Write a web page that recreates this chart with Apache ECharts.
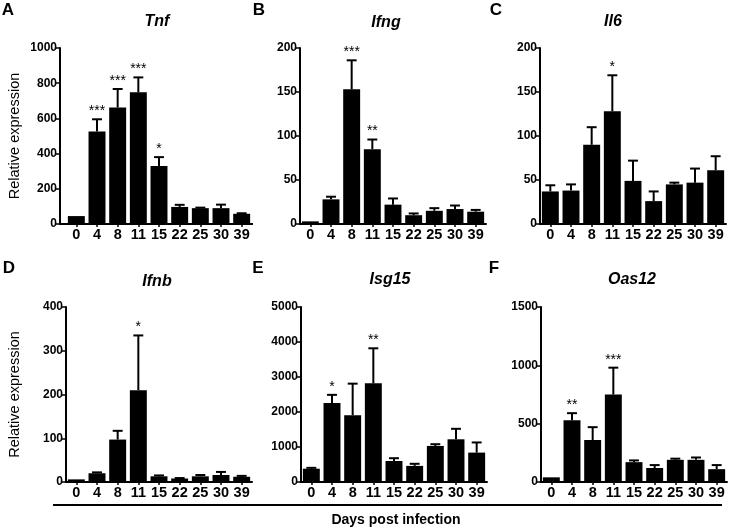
<!DOCTYPE html>
<html><head><meta charset="utf-8">
<script src="https://cdn.jsdelivr.net/npm/echarts@6/dist/echarts.min.js"></script>
<style>html,body{margin:0;padding:0;background:#fff}#c{width:732px;height:528px}</style>
</head><body><div id="c"></div>
<script>
const days = ['0','4','8','11','15','22','25','30','39'];

const tnf    = [45, 525, 662, 748, 330, 97, 90, 90, 58];
const tnfErr = [0, 70, 105, 85, 50, 12, 3, 20, 3];
const tnfSig = ['', '***', '***', '***', '*', '', '', '', ''];

const ifng    = [3, 28, 153, 85, 22, 10, 15, 17, 14];
const ifngErr = [0, 3, 33, 11, 7, 2, 3, 4, 2];
const ifngSig = ['', '', '***', '**', '', '', '', '', ''];

const il6    = [37, 38, 90, 128, 49, 26, 45, 47, 61];
const il6Err = [7, 7, 20, 41, 23, 11, 2, 16, 16];
const il6Sig = ['', '', '', '*', '', '', '', '', ''];

const ifnb    = [6, 20, 97, 210, 13, 8, 13, 16, 12];
const ifnbErr = [0, 2, 20, 125, 2, 1, 3, 7, 2];
const ifnbSig = ['', '', '', '*', '', '', '', '', ''];

const isg15    = [380, 2260, 1910, 2820, 600, 460, 1030, 1220, 840];
const isg15Err = [25, 230, 900, 1000, 80, 60, 50, 300, 290];
const isg15Sig = ['', '*', '', '**', '', '', '', '', ''];

const oas12    = [40, 530, 360, 750, 170, 120, 190, 190, 110];
const oas12Err = [0, 60, 110, 230, 15, 25, 10, 20, 35];
const oas12Sig = ['', '**', '', '***', '', '', '', '', ''];

const FONT = '"Liberation Sans", Arial, sans-serif';

const panels = [
  {name:'Tnf',   letter:'A', vals:tnf,   errs:tnfErr,   sig:tnfSig,   max:1000, step:200,  left:66,  top:48,  h:176, yOff:6, tx:157, ty:22,  lx:8,   ly:10,  ylab:true},
  {name:'Ifng',  letter:'B', vals:ifng,  errs:ifngErr,  sig:ifngSig,  max:200,  step:50,   left:300, top:48,  h:176, yOff:0, tx:386, ty:23,  lx:259, ly:10,  ylab:false},
  {name:'Il6',   letter:'C', vals:il6,   errs:il6Err,   sig:il6Sig,   max:200,  step:50,   left:540, top:48,  h:176, yOff:0, tx:613, ty:22,  lx:496, ly:10,  ylab:false},
  {name:'Ifnb',  letter:'D', vals:ifnb,  errs:ifnbErr,  sig:ifnbSig,  max:400,  step:100,  left:66,  top:307, h:175, yOff:0, tx:157, ty:282, lx:9,   ly:268, ylab:true},
  {name:'Isg15', letter:'E', vals:isg15, errs:isg15Err, sig:isg15Sig, max:5000, step:1000, left:301, top:307, h:175, yOff:0, tx:390, ty:280, lx:258, ly:268, ylab:false},
  {name:'Oas12', letter:'F', vals:oas12, errs:oas12Err, sig:oas12Sig, max:1500, step:500,  left:541, top:307, h:175, yOff:0, tx:632, ty:280, lx:494, ly:268, ylab:false}
];

const BAND_W = 186;

function errItem(sig) {
  return function (params, api) {
    const i = api.value(0), v = api.value(1), e = api.value(2);
    const base = api.coord([i, v]);
    const top = api.coord([i, v + e]);
    const hw = api.size([1, 0])[0] * 0.24;
    const children = [];
    if (e > 0) {
      children.push({type:'line', shape:{x1:base[0], y1:base[1], x2:top[0], y2:top[1]}, style:{stroke:'#000', lineWidth:2}});
      children.push({type:'line', shape:{x1:top[0]-hw, y1:top[1], x2:top[0]+hw, y2:top[1]}, style:{stroke:'#000', lineWidth:2}});
    }
    const s = sig[params.dataIndex];
    if (s) {
      children.push({type:'text', style:{text:s, x:top[0], y:top[1]-1, textAlign:'center', textVerticalAlign:'bottom', font:'14px ' + FONT, fill:'#000'}});
    }
    return {type:'group', children};
  };
}

const grid = [], xAxis = [], yAxis = [], series = [], graphic = [];

panels.forEach((p, k) => {
  grid.push({left:p.left, top:p.top, width:BAND_W, height:p.h, containLabel:false});
  xAxis.push({
    type:'category', gridIndex:k, data:days,
    axisLine:{lineStyle:{color:'#000', width:2}},
    axisTick:{show:true, alignWithLabel:true, length:3, lineStyle:{color:'#000', width:1.5}},
    axisLabel:{color:'#000', fontFamily:FONT, fontWeight:'bold', fontSize:14.5, margin:3, interval:0}
  });
  yAxis.push({
    type:'value', gridIndex:k, min:0, max:p.max, interval:p.step, offset:p.yOff,
    name: p.ylab ? 'Relative expression' : '',
    nameLocation:'middle', nameRotate:90, nameGap: p.ylab ? (k === 0 ? 38 : 44) : 0,
    nameTextStyle:{color:'#000', fontFamily:FONT, fontSize:14.5},
    axisLine:{show:true, lineStyle:{color:'#000', width:2}},
    axisTick:{show:true, length:4, lineStyle:{color:'#000', width:1.5}},
    axisLabel:{color:'#000', fontFamily:FONT, fontWeight:'bold', fontSize:12, margin:3, formatter:(v) => String(v)},
    splitLine:{show:false}
  });
  series.push({
    type:'bar', xAxisIndex:k, yAxisIndex:k, data:p.vals,
    barCategoryGap:'18%', itemStyle:{color:'#000'}, silent:true
  });
  series.push({
    type:'custom', xAxisIndex:k, yAxisIndex:k,
    data:p.vals.map((v, j) => [j, v, p.errs[j]]),
    encode:{x:0, y:1}, renderItem:errItem(p.sig), z:5, silent:true
  });
  graphic.push({type:'text', style:{text:p.name, x:p.tx, y:p.ty, textAlign:'center', textVerticalAlign:'middle', font:'italic bold 16px ' + FONT, fill:'#000'}});
  graphic.push({type:'text', style:{text:p.letter, x:p.lx, y:p.ly, textAlign:'center', textVerticalAlign:'middle', font:'bold 17px ' + FONT, fill:'#000'}});
});

// extra axis line so panel A's x-axis reaches its offset y-axis
grid.push({left:60, top:48, width:192, height:176});
xAxis.push({type:'value', gridIndex:6, min:0, max:1, axisLine:{show:true, lineStyle:{color:'#000', width:2}}, axisTick:{show:false}, axisLabel:{show:false}, splitLine:{show:false}});
yAxis.push({type:'value', gridIndex:6, show:false, min:0, max:1});

graphic.push({type:'line', shape:{x1:53, y1:505, x2:722, y2:505}, style:{stroke:'#000', lineWidth:2}});
graphic.push({type:'text', style:{text:'Days post infection', x:396, y:520, textAlign:'center', textVerticalAlign:'middle', font:'bold 14px ' + FONT, fill:'#000'}});

const chart = echarts.init(document.getElementById('c'), null, {renderer:'canvas'});
chart.setOption({animation:false, backgroundColor:'#fff', grid, xAxis, yAxis, series, graphic});
</script>
</body></html>
